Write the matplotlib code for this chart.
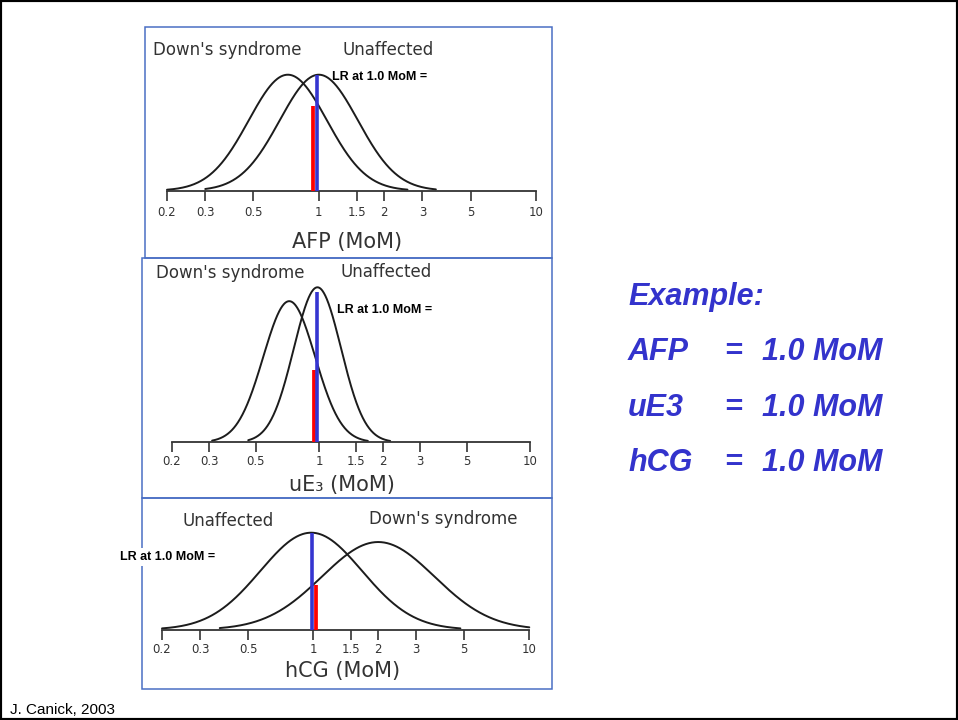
import numpy as np
import matplotlib
matplotlib.use("Agg")
import matplotlib.pyplot as plt
from matplotlib.patches import Rectangle
from matplotlib.ticker import FixedLocator, NullLocator
from matplotlib.transforms import ScaledTranslation

W, H, DPI = 958, 720, 100

# ---- data -----------------------------------------------------------------
tick_values = [0.2, 0.3, 0.5, 1, 1.5, 2, 3, 5, 10]
tick_labels = ["0.2", "0.3", "0.5", "1", "1.5", "2", "3", "5", "10"]

markers = ["AFP", "uE3", "hCG"]
axis_titles = ["AFP (MoM)", "uE\u2083 (MoM)", "hCG (MoM)"]

# log-normal distributions (median MoM, SD of log10 MoM, drawn MoM range)
down_median = [0.72, 0.72, 2.0]
down_sd = [0.18, 0.123, 0.26]
down_range = [(0.20, 2.56), (0.31, 1.70), (0.37, 10.0)]

unaff_median = [1.0, 0.98, 0.98]
unaff_sd = [0.18, 0.112, 0.235]
unaff_range = [(0.30, 3.46), (0.46, 2.17), (0.20, 4.8)]

example_mom = [1.0, 1.0, 1.0]

# ---- layout (pixels) -------------------------------------------------------
panel_boxes = [(145, 27, 552, 258), (142, 258, 552, 498), (142, 498, 552, 689)]
axis_left = [167.0, 172.0, 162.0]
axis_right = [536.0, 530.0, 529.3]
axis_base = [190.7, 442.3, 629.7]
peak_px = [116, 155, 97]
tick_pad = [3.5, 2.0, 1.8]
title_pos = [(347, 242), (342, 485), (343, 671)]
label_pos = [
    [("Down's syndrome", 153, 50), ("Unaffected", 342, 50)],
    [("Down's syndrome", 156, 273), ("Unaffected", 340, 272)],
    [("Unaffected", 183, 521), ("Down's syndrome", 369, 519)],
]
lr_pos = [(332, 77), (337, 310), (120, 557)]
red_shift = [-6.0, -5.5, 2.5]
blue_shift = [-1.5, -2.0, -1.0]

CURVE = "#1c1c1c"
AXIS = "#333333"
BLUE = "#3535d0"
RED = "#ff0000"
FRAME = "#4a6fc4"
TEXT_BLUE = "#3333cc"


def fx(x):
    return x / W


def fy(y):
    return 1 - y / H


def rel_density(x, median, sd, ref_sd):
    z = (np.log10(x) - np.log10(median)) / sd
    return (ref_sd / sd) * np.exp(-0.5 * z ** 2)


fig = plt.figure(figsize=(W / DPI, H / DPI), dpi=DPI)
fig.patch.set_facecolor("white")

# outer slide frame
fig.patches.append(Rectangle((0, 0), 1, 1, transform=fig.transFigure,
                             fill=False, ec="black", lw=3, zorder=10))

for i in range(3):
    x0, y0, x1, y1 = panel_boxes[i]
    fig.patches.append(Rectangle((fx(x0), fy(y1)), fx(x1 - x0), (y1 - y0) / H,
                                 transform=fig.transFigure, fill=False,
                                 ec=FRAME, lw=1.1, zorder=1))

    top_px = axis_base[i] - 150
    ax = fig.add_axes([fx(axis_left[i]), fy(axis_base[i]),
                       fx(axis_right[i] - axis_left[i]),
                       (axis_base[i] - top_px) / H])
    ax.patch.set_visible(False)
    ax.set_xscale("log")
    ax.set_xlim(0.2, 10)
    ax.set_ylim(0, (axis_base[i] - top_px) / peak_px[i])

    ref = unaff_sd[i]
    for med, sd, (lo, hi) in [(down_median[i], down_sd[i], down_range[i]),
                              (unaff_median[i], unaff_sd[i], unaff_range[i])]:
        xs = np.logspace(np.log10(lo), np.log10(hi), 400)
        ax.plot(xs, rel_density(xs, med, sd, ref), color=CURVE, lw=1.4,
                solid_capstyle="round", clip_on=False)

    v = example_mom[i]
    h_down = rel_density(v, down_median[i], down_sd[i], ref)
    h_unaff = rel_density(v, unaff_median[i], unaff_sd[i], ref)
    red_tr = ax.transData + ScaledTranslation(red_shift[i] / DPI, 0, fig.dpi_scale_trans)
    blue_tr = ax.transData + ScaledTranslation(blue_shift[i] / DPI, 0, fig.dpi_scale_trans)
    ax.plot([v, v], [0, h_down], color=RED, lw=2.7, solid_capstyle="butt",
            transform=red_tr, zorder=4)
    ax.plot([v, v], [0, h_unaff], color=BLUE, lw=2.6, solid_capstyle="butt",
            transform=blue_tr, zorder=5)

    for s in ("top", "left", "right"):
        ax.spines[s].set_visible(False)
    ax.spines["bottom"].set_color(AXIS)
    ax.spines["bottom"].set_linewidth(1.3)
    ax.xaxis.set_major_locator(FixedLocator(tick_values))
    ax.xaxis.set_minor_locator(NullLocator())
    ax.set_xticklabels(tick_labels)
    ax.set_yticks([])
    ax.tick_params(axis="x", direction="out", length=7.5, width=1.2,
                   color=AXIS, labelcolor=AXIS, labelsize=8.5, pad=tick_pad[i])

    tx, ty = title_pos[i]
    fig.text(fx(tx), fy(ty), axis_titles[i], ha="center", va="center",
             fontsize=15, color=AXIS, family="DejaVu Sans")
    for txt, lx, ly in label_pos[i]:
        fig.text(fx(lx), fy(ly), txt, ha="left", va="center", fontsize=12,
                 color=AXIS, family="DejaVu Sans")

    rx, ry = lr_pos[i]
    box = dict(facecolor="white", edgecolor="none", pad=2) if i == 2 else None
    fig.text(fx(rx), fy(ry), "LR at 1.0 MoM =", ha="left", va="center",
             fontsize=9, fontweight="bold", family="Liberation Sans",
             color="black", bbox=box, zorder=6)

# example values
fig.text(fx(628), fy(305), "Example:", ha="left", va="baseline", fontsize=22,
         fontweight="bold", fontstyle="italic", family="Liberation Sans",
         color=TEXT_BLUE)
row_base = [360, 416, 471]
for name, val, yb in zip(markers, example_mom, row_base):
    kw = dict(va="baseline", fontsize=22, fontweight="bold", fontstyle="italic",
              family="Liberation Sans", color=TEXT_BLUE)
    fig.text(fx(628), fy(yb), name, ha="left", **kw)
    fig.text(fx(724), fy(yb), "=", ha="left", **kw)
    fig.text(fx(762), fy(yb), f"{val:.1f} MoM", ha="left", **kw)

fig.text(fx(10), fy(714), "J. Canick, 2003", ha="left", va="baseline",
         fontsize=11, family="Liberation Sans", color="black")

fig.savefig("out.png", dpi=DPI)
